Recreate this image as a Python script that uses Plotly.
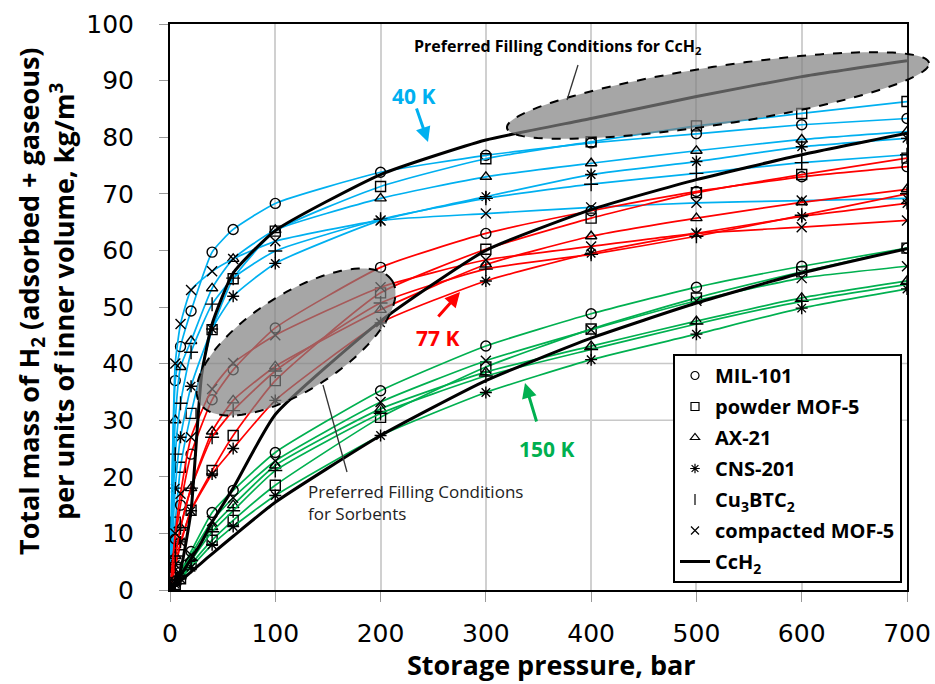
import math
import plotly.graph_objects as go

# ---------------- data ----------------
pressure = [0, 5, 10, 20, 40, 60, 100, 200, 300, 400, 500, 600, 700]

mil101_40K = [0, 37, 43, 49.3, 59.7, 63.7, 68.3, 73.8, 76.8, 79.0, 80.6, 82.2, 83.3]
mof5p_40K = [0, 12, 21.7, 31.2, 46, 55, 63.4, 71.3, 76.2, 79.2, 82.0, 84.2, 86.3]
ax21_40K = [0, 30, 39.4, 44, 53.3, 58.5, 63.6, 69.2, 73.0, 75.4, 77.6, 79.6, 81.0]
cns201_40K = [0, 18, 27, 36, 46.1, 51.9, 57.7, 65.3, 69.5, 73.4, 75.7, 78.3, 79.8]
cubtc_40K = [0, 24, 33, 42, 50.5, 55.1, 59.9, 65.5, 69.2, 71.7, 73.6, 75.5, 76.9]
mof5c_40K = [0, 40, 47, 53.0, 56.3, 58.5, 61.6, 65.3, 66.5, 67.6, 68.4, 68.8, 69.2]

mil101_77K = [0, 9, 15, 24, 33.6, 38.9, 46.3, 57.0, 63.0, 67.0, 70.4, 73.0, 74.8]
mof5p_77K = [0, 4, 8, 14.1, 21.1, 27.3, 37.0, 52.5, 60.2, 65.7, 70.2, 73.4, 76.3]
ax21_77K = [0, 6, 11, 18, 28, 33.5, 39.5, 49.5, 57.5, 62.5, 65.7, 68.5, 70.8]
cns201_77K = [0, 4.5, 8.5, 14, 20.5, 25, 33.5, 47.2, 54.6, 59.5, 63.0, 66.0, 68.3]
cubtc_77K = [0, 6, 11, 18, 27, 31.7, 38.7, 50.7, 56.7, 59.3, 62.5, 66.2, 70.0]
mof5c_77K = [0, 10, 17, 27, 35.5, 40.1, 45, 53.5, 58.3, 60.7, 63.0, 64.1, 65.3]

mil101_150K = [0, 1.5, 3.2, 6.8, 13.7, 17.6, 24.3, 35.2, 43.1, 48.8, 53.5, 57.2, 60.4]
mof5p_150K = [0, 1, 2, 4.5, 8.8, 12.3, 18.5, 30.5, 39.4, 46.1, 51.6, 56.2, 60.4]
ax21_150K = [0, 1.3, 2.6, 5.5, 11.1, 15.0, 22.0, 32.0, 38.5, 43.1, 47.5, 51.6, 54.6]
cns201_150K = [0, 1, 2, 4, 8, 11.2, 16.7, 27.3, 34.9, 40.7, 45.2, 49.8, 53.2]
cubtc_150K = [0, 1.2, 2.5, 5.2, 10.3, 14, 21.1, 31.2, 37.8, 42.5, 47, 51, 54]
mof5c_150K = [0, 1.4, 2.8, 6.2, 12.2, 16.3, 22.8, 33.2, 40.5, 46, 51.1, 55.1, 57.2]

pressure_cch2 = [0, 5, 10, 20, 30, 40, 60, 100, 200, 300, 400, 500, 600, 700]
cch2_40K = [0, 1.5, 3.5, 14, 38, 47, 56, 63.5, 73.4, 79.5, 83.3, 87.2, 90.7, 93.5]
cch2_77K = [0, 1.3, 2.6, 5.5, 8.5, 12, 18, 31.0, 47.5, 60, 67.2, 72.5, 76.9, 80.7]
cch2_150K = [0, 0.8, 1.6, 3.2, 4.8, 6.4, 9.5, 15.5, 27.3, 37, 44.5, 50.7, 56, 60.3]

material_names = ["MIL-101", "powder MOF-5", "AX-21", "CNS-201",
                  "Cu<sub>3</sub>BTC<sub>2</sub>", "compacted MOF-5"]
temperature_labels = ["40 K", "77 K", "150 K"]
x_ticks = [0, 100, 200, 300, 400, 500, 600, 700]
y_ticks = [0, 10, 20, 30, 40, 50, 60, 70, 80, 90, 100]

# ---------------- styles ----------------
symbols = ["circle-open", "square-open", "triangle-up-open", "asterisk-open",
           "cross-thin-open", "x-thin-open"]
legend_symbols = ["circle-open", "square-open", "triangle-up-open", "asterisk-open",
                  "line-ns-open", "x-thin-open"]
temp_colors = ["#00B0F0", "#FF0000", "#00B050"]

series = {
    0: [mil101_40K, mof5p_40K, ax21_40K, cns201_40K, cubtc_40K, mof5c_40K],
    1: [mil101_77K, mof5p_77K, ax21_77K, cns201_77K, cubtc_77K, mof5c_77K],
    2: [mil101_150K, mof5p_150K, ax21_150K, cns201_150K, cubtc_150K, mof5c_150K],
}
cch2 = [cch2_40K, cch2_77K, cch2_150K]

# plot-area geometry in pixels
L, R, T, B = 170, 907, 24, 590
W, H = R - L, B - T
FIG_W, FIG_H = 935, 684


def px2paper(px, py):
    return (px - L) / W, (B - py) / H


def ellipse_path(cx, cy, a, b, theta_deg, n=120):
    th = math.radians(theta_deg)
    pts = []
    for i in range(n):
        t = 2 * math.pi * i / n
        dx = a * math.cos(t) * math.cos(th) - b * math.sin(t) * math.sin(th)
        dy = a * math.cos(t) * math.sin(th) + b * math.sin(t) * math.cos(th)
        xp, yp = px2paper(cx + dx, cy - dy)
        pts.append(f"{xp:.5f},{yp:.5f}")
    return "M " + " L ".join(pts) + " Z"


fig = go.Figure()

for ti in range(3):
    for mi in range(6):
        fig.add_trace(go.Scatter(
            x=pressure, y=series[ti][mi], mode="lines+markers",
            line=dict(color=temp_colors[ti], width=1.7, shape="spline", smoothing=0.5),
            marker=dict(symbol=symbols[mi], color="black", size=10,
                        line=dict(color="black", width=1.4)),
            showlegend=False, hoverinfo="skip"))

for ti in range(3):
    fig.add_trace(go.Scatter(
        x=pressure_cch2, y=cch2[ti], mode="lines",
        line=dict(color="black", width=3, shape="spline", smoothing=0.5),
        showlegend=False, hoverinfo="skip"))

for mi in range(6):
    fig.add_trace(go.Scatter(
        x=[None], y=[None], mode="markers", name=material_names[mi],
        marker=dict(symbol=legend_symbols[mi], color="black", size=8,
                    line=dict(color="black", width=1.2)),
        legendgroup=str(mi)))
fig.add_trace(go.Scatter(x=[None], y=[None], mode="lines", name="CcH<sub>2</sub>",
                         line=dict(color="black", width=3), legendgroup="6"))

shapes = []
for yv in [30, 40]:
    shapes.append(dict(type="line", xref="paper", yref="y", x0=0, x1=1, y0=yv, y1=yv,
                       line=dict(color="#c8c8c8", width=1.5), layer="below"))
shapes.append(dict(type="path", xref="paper", yref="paper",
                   path=ellipse_path(718, 95.5, 213.5, 29, 8.76),
                   fillcolor="rgba(128,128,128,0.7)",
                   line=dict(color="black", width=2, dash="dash"), layer="above"))
shapes.append(dict(type="path", xref="paper", yref="paper",
                   path=ellipse_path(296, 342, 114, 48, 32.6),
                   fillcolor="rgba(128,128,128,0.7)",
                   line=dict(color="black", width=2, dash="dash"), layer="above"))
for (x0, y0, x1, y1) in [(578, 65, 567, 100), (323, 385, 347, 472)]:
    a0 = px2paper(x0, y0)
    a1 = px2paper(x1, y1)
    shapes.append(dict(type="line", xref="paper", yref="paper",
                       x0=a0[0], y0=a0[1], x1=a1[0], y1=a1[1],
                       line=dict(color="#333333", width=1.3)))

annotations = []
for (tx, ty, hx, hy, col) in [(416, 107, 428, 142, temp_colors[0]),
                               (437, 318, 460, 292, temp_colors[1]),
                               (537, 423, 525, 383, temp_colors[2])]:
    hxp, hyp = px2paper(hx, hy)
    annotations.append(dict(xref="paper", yref="paper", x=hxp, y=hyp, ax=tx - hx, ay=ty - hy,
                            text="", showarrow=True, arrowhead=2, arrowsize=1.0,
                            arrowwidth=3, arrowcolor=col))
for (cx, cy, txt, col) in [(413, 96, temperature_labels[0], temp_colors[0]),
                           (437, 338, temperature_labels[1], temp_colors[1]),
                           (546, 449, temperature_labels[2], temp_colors[2])]:
    xp, yp = px2paper(cx, cy)
    annotations.append(dict(xref="paper", yref="paper", x=xp, y=yp, text=f"<b>{txt}</b>",
                            xanchor="center", yanchor="middle",
                            showarrow=False, font=dict(family="Open Sans", size=21, color=col)))

xp, yp = px2paper(558, 46)
annotations.append(dict(xref="paper", yref="paper", x=xp, y=yp,
                        xanchor="center", yanchor="middle",
                        text="<b>Preferred Filling Conditions for CcH<sub>2</sub></b>",
                        showarrow=False, font=dict(family="Open Sans", size=16, color="black")))
xp, yp = px2paper(306, 502)
annotations.append(dict(xref="paper", yref="paper", x=xp, y=yp, xanchor="left",
                        yanchor="middle",
                        text="Preferred Filling Conditions<br>for Sorbents", align="left",
                        showarrow=False, font=dict(family="Open Sans", size=17, color="#222222")))

xp, yp = px2paper(551, 664)
annotations.append(dict(xref="paper", yref="paper", x=xp, y=yp,
                        xanchor="center", yanchor="middle",
                        text="<b>Storage pressure, bar</b>", showarrow=False,
                        font=dict(family="Open Sans", size=27, color="black")))
xp, yp = px2paper(46, 302)
annotations.append(dict(xref="paper", yref="paper", x=xp, y=yp, textangle=-90,
                        xanchor="center", yanchor="middle",
                        text="<b>Total mass of H<sub>2</sub> (adsorbed + gaseous)<br>"
                             "per units of inner volume, kg/m<sup>3</sup></b>",
                        showarrow=False,
                        font=dict(family="Open Sans", size=27, color="black")))

lx, ly = px2paper(902, 583)
fig.update_layout(
    width=FIG_W, height=FIG_H,
    margin=dict(l=L, r=FIG_W - R, t=T, b=FIG_H - B, autoexpand=False),
    paper_bgcolor="white", plot_bgcolor="white",
    shapes=shapes, annotations=annotations,
    legend=dict(x=lx, y=ly, xanchor="right", yanchor="bottom",
                bgcolor="white", bordercolor="black", borderwidth=2,
                font=dict(family="Open Sans", size=20, color="black", weight="bold"),
                tracegroupgap=2, itemwidth=30),
    xaxis=dict(range=[0, 700], tickvals=x_ticks, showgrid=True, gridcolor="#d0d0d0",
               gridwidth=1.5, showline=True, linecolor="black", linewidth=2, mirror=True,
               ticks="outside", ticklen=10, tickcolor="#999999", zeroline=False,
               automargin=False,
               tickfont=dict(family="DejaVu Sans", size=25, color="black"),
               ticklabelstandoff=10),
    yaxis=dict(range=[0, 100], tickvals=y_ticks, showgrid=False,
               showline=True, linecolor="black", linewidth=2, mirror=True,
               ticks="outside", ticklen=9, tickcolor="#999999", zeroline=False,
               automargin=False,
               tickfont=dict(family="DejaVu Sans", size=25, color="black"),
               ticklabelstandoff=20),
)

fig.write_html("out.html", config={"displayModeBar": False})

# remove default page margin so the figure sits at the window's top-left corner
with open("out.html", "r", encoding="utf-8") as f:
    html = f.read()
html = html.replace("<head>", "<head><style>html,body{margin:0;padding:0;}</style>", 1)
with open("out.html", "w", encoding="utf-8") as f:
    f.write(html)
